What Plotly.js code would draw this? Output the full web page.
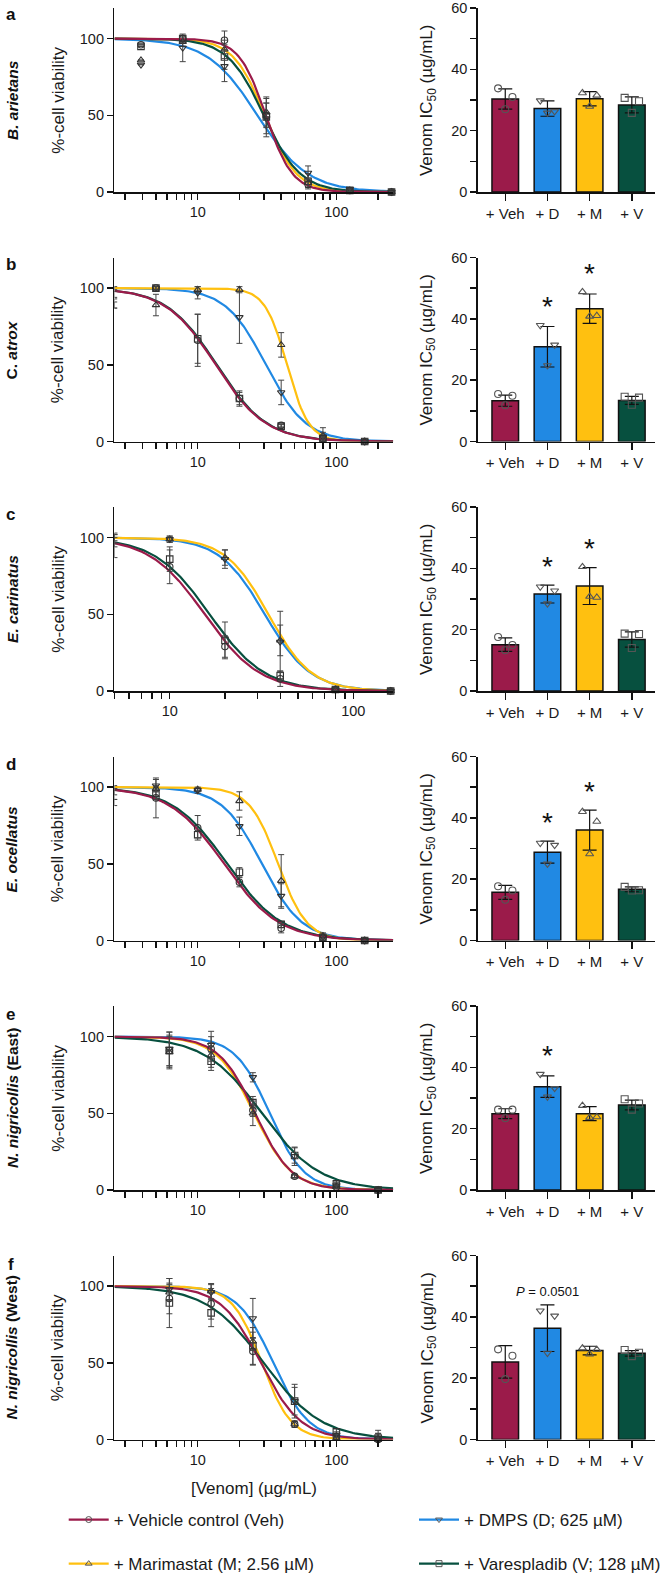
<!DOCTYPE html>
<html><head><meta charset="utf-8">
<script src="https://cdn.plot.ly/plotly-3.0.1.min.js"></script>
<style>html,body{margin:0;padding:0;background:#fff}</style>
</head><body><div id="chart" style="width:666px;height:1582px"></div>
<script>
// ---------------- data ----------------
const treatments = ['+ Vehicle control (Veh)', '+ DMPS (D; 625 µM)', '+ Marimastat (M; 2.56 µM)', '+ Varespladib (V; 128 µM)'];
const barLabels = ['+ Veh', '+ D', '+ M', '+ V'];
const speciesNames = ['<b><i>B. arietans</i></b>', '<b>C. <i>atrox</i></b>', '<b><i>E. carinatus</i></b>', '<b><i>E. ocellatus</i></b>', '<b><i>N. nigricollis</i> (East)</b>', '<b><i>N. nigricollis</i> (West)</b>'];
const panelLetters = ['a', 'b', 'c', 'd', 'e', 'f'];
const xMajorVals = [10, 100];
const xMinorVals = [2, 3, 4, 5, 6, 7, 8, 9, 20, 30, 40, 50, 60, 70, 80, 90, 200, 300];

// concentrations (µg/mL)
const concA = [3.9, 7.8, 15.6, 31.25, 62.5, 125, 250];
const concB = [2.5, 5, 10, 20, 40, 80, 160];
const concC = [5, 10, 20, 40, 80, 160];
const concD = [2.5, 5, 10, 20, 40, 80, 160];
const concE = [6.25, 12.5, 25, 50, 100, 200];
const concF = [6.25, 12.5, 25, 50, 100, 200];

// %-cell viability means and SDs (Veh, D, M, V)
const a_veh = [96, 100, 99, 50, 5, 1, 0],        a_vehSd = [0, 2, 6, 8, 2, 1, 0];
const a_dmp = [83, 94, 82, 48, 12.5, 2, 0],      a_dmpSd = [0, 9, 10, 10, 4.5, 1, 0];
const a_mar = [86, 98, 93, 52, 6, 1, 0],         a_marSd = [0, 3, 6, 9, 3, 1, 0];
const a_var = [95, 100, 88, 49, 7, 1, 0],        a_varSd = [0, 2, 8, 13, 5, 1, 0];

const b_veh = [96, 100, 66, 28, 10.5, 2, 0],     b_vehSd = [2, 1, 17, 5, 1, 1, 0];
const b_dmp = [100, 100, 97, 81, 32, 3, 0],      b_dmpSd = [1, 1, 4, 17, 8, 3, 0];
const b_mar = [89, 89, 99, 99, 63, 4, 0],        b_marSd = [2, 7, 2, 2, 8, 5, 0];
const b_var = [90, 100, 67, 28, 10, 2, 0],       b_varSd = [3, 1, 16, 4, 1, 1, 0];

const c_veh = [95, 81, 29, 8, 1, 0],             c_vehSd = [8, 11, 7, 5, 1, 0];
const c_dmp = [97, 99, 86, 32, 1, 0],            c_dmpSd = [3, 2, 6, 20, 1, 0];
const c_mar = [100, 99, 87, 33, 1, 0],           c_marSd = [2, 2, 5, 10, 1, 0];
const c_var = [99, 86, 33, 10, 1, 0],            c_varSd = [3, 8, 12, 3, 1, 0];

const d_veh = [95, 93, 73.5, 38, 8, 2, 0],       d_vehSd = [3, 13, 8, 3, 3, 2, 0];
const d_dmp = [90, 101, 98, 74.5, 29, 2, 0],     d_dmpSd = [2, 4, 2, 6, 8, 2, 0];
const d_mar = [100, 99, 98.5, 91, 39, 3, 0],     d_marSd = [1, 2, 1, 6, 17, 2, 0];
const d_var = [97, 96, 69, 44.5, 10.5, 2, 0],    d_varSd = [2, 4, 2, 3, 2, 2, 0];

const e_veh = [91, 92, 52, 9, 2, 0],             e_vehSd = [12, 8, 4, 1, 1, 0];
const e_dmp = [92, 94.5, 73.5, 22, 3, 0],        e_dmpSd = [11, 9, 3, 6, 2, 0];
const e_mar = [90, 88, 50, 9, 2, 0],             e_marSd = [10, 8, 8, 1, 1, 0];
const e_var = [91, 84, 57, 22.5, 4, 0],          e_varSd = [10, 6, 4, 5, 2, 0];

const f_veh = [92, 88.5, 57.5, 10, 2, 0],        f_vehSd = [10, 10, 9, 2, 2, 4];
const f_dmp = [98, 96, 79, 25, 3, 1],            f_dmpSd = [7, 5, 13, 11, 2, 5];
const f_mar = [96, 96.7, 64, 10, 1, 0],          f_marSd = [5, 5, 6, 2, 1, 2];
const f_var = [89, 82.6, 61, 25, 5, 1],          f_varSd = [16, 9, 12, 9, 2, 3];

// fitted curve parameters (IC50 µg/mL, Hill slope), order Veh, D, M, V
const a_ic50 = [31, 27, 30.5, 30],     a_hill = [4.5, 2.4, 3.8, 3.3];
const b_ic50 = [13.5, 31, 44, 13.7],   b_hill = [2.4, 3.0, 5.5, 2.4];
const c_ic50 = [15.5, 33, 34.5, 16.5], c_hill = [2.9, 3.5, 3.7, 2.9];
const d_ic50 = [15.5, 29, 38, 16.3],   d_hill = [2.2, 3.0, 4.2, 2.2];
const e_ic50 = [26, 33, 25.5, 29],     e_hill = [3.3, 3.5, 3.2, 2.1];
const f_ic50 = [28.5, 35, 29, 30],     f_hill = [3.0, 3.4, 4.1, 2.1];

// Venom IC50 bars: mean, SD, replicate points (Veh, D, M, V)
const a_bar = [30.3, 27.2, 30.4, 28.4], a_barSd = [3.3, 2.5, 2.3, 2.6];
const a_pVeh = [33.8, 31.0, 27.0], a_pDmp = [29.8, 26.3, 25.8], a_pMar = [32.3, 31.5, 27.9], a_pVar = [30.7, 29.6, 25.8];
const b_bar = [13.3, 30.9, 43.3, 13.4], b_barSd = [1.8, 6.6, 4.8, 1.3];
const b_pVeh = [15.5, 14.9, 11.8], b_pDmp = [37.9, 31.5, 24.8], b_pMar = [48.8, 41.0, 40.8], b_pVar = [14.6, 14.3, 12.0];
const c_bar = [15.1, 31.6, 34.2, 16.8], c_barSd = [2.2, 2.9, 6.0, 2.5];
const c_pVeh = [17.6, 15.0, 13.3], c_pDmp = [34.0, 32.7, 28.5], c_pMar = [40.5, 30.5, 30.8], c_pVar = [18.7, 18.6, 14.0];
const d_bar = [15.7, 28.8, 36.0, 16.7], d_barSd = [2.3, 3.6, 6.5, 0.8];
const d_pVeh = [17.7, 16.3, 13.3], d_pDmp = [31.8, 31.1, 25.0], d_pMar = [42.0, 38.8, 28.2], d_pVar = [17.5, 16.4, 16.3];
const e_bar = [24.9, 33.7, 24.9, 27.7], e_barSd = [1.6, 3.5, 2.3, 1.6];
const e_pVeh = [26.2, 26.2, 23.4], e_pDmp = [37.8, 33.2, 30.4], e_pMar = [27.5, 23.8, 23.6], e_pVar = [29.6, 28.2, 26.2];
const f_bar = [25.3, 36.3, 29.0, 28.1], f_barSd = [5.3, 7.6, 1.4, 0.9];
const f_pVeh = [29.4, 27.3, 19.7], f_pDmp = [42.0, 40.3, 28.2], f_pMar = [29.8, 29.3, 27.8], f_pVar = [29.2, 28.3, 27.2];

// significance labels above bars
const a_sig = ['', '', '', ''];
const b_sig = ['', '*', '*', ''];
const c_sig = ['', '*', '*', ''];
const d_sig = ['', '*', '*', ''];
const e_sig = ['', '*', '', ''];
const f_sig = ['', '<i>P</i> = 0.0501', '', ''];

// ---------------- assembly ----------------
const panels = [
  {conc: concA, m: [a_veh, a_dmp, a_mar, a_var], sd: [a_vehSd, a_dmpSd, a_marSd, a_varSd], ic50: a_ic50, hill: a_hill, xr: [0.4, 2.41], bar: a_bar, barSd: a_barSd, pts: [a_pVeh, a_pDmp, a_pMar, a_pVar], sig: a_sig},
  {conc: concB, m: [b_veh, b_dmp, b_mar, b_var], sd: [b_vehSd, b_dmpSd, b_marSd, b_varSd], ic50: b_ic50, hill: b_hill, xr: [0.4, 2.41], bar: b_bar, barSd: b_barSd, pts: [b_pVeh, b_pDmp, b_pMar, b_pVar], sig: b_sig},
  {conc: concC, m: [c_veh, c_dmp, c_mar, c_var], sd: [c_vehSd, c_dmpSd, c_marSd, c_varSd], ic50: c_ic50, hill: c_hill, xr: [Math.log10(5), 2.218], bar: c_bar, barSd: c_barSd, pts: [c_pVeh, c_pDmp, c_pMar, c_pVar], sig: c_sig},
  {conc: concD, m: [d_veh, d_dmp, d_mar, d_var], sd: [d_vehSd, d_dmpSd, d_marSd, d_varSd], ic50: d_ic50, hill: d_hill, xr: [0.4, 2.41], bar: d_bar, barSd: d_barSd, pts: [d_pVeh, d_pDmp, d_pMar, d_pVar], sig: d_sig},
  {conc: concE, m: [e_veh, e_dmp, e_mar, e_var], sd: [e_vehSd, e_dmpSd, e_marSd, e_varSd], ic50: e_ic50, hill: e_hill, xr: [0.4, 2.41], bar: e_bar, barSd: e_barSd, pts: [e_pVeh, e_pDmp, e_pMar, e_pVar], sig: e_sig},
  {conc: concF, m: [f_veh, f_dmp, f_mar, f_var], sd: [f_vehSd, f_dmpSd, f_marSd, f_varSd], ic50: f_ic50, hill: f_hill, xr: [0.4, 2.41], bar: f_bar, barSd: f_barSd, pts: [f_pVeh, f_pDmp, f_pMar, f_pVar], sig: f_sig}
];

const colors = ['#9B1B4A', '#2189E3', '#FFC010', '#07503F'];
const symbols = ['circle-open', 'triangle-down-open', 'triangle-up-open', 'square-open'];
const FONT = 'Arial, "Liberation Sans", Helvetica, sans-serif';
const W = 666, H = 1582;
const fx = p => p / W;
const fy = p => 1 - p / H;
const LEFT = [115, 395], RIGHT = [480, 658];
const drawOrder = [1, 2, 3, 0];
const jitter = [-0.17, 0.17, 0];

const traces = [];
const legendStyle = {yanchor: 'top', xanchor: 'left', font: {size: 17, family: FONT, color: '#1a1a1a'}, tracegroupgap: 19, itemwidth: 40, bgcolor: 'rgba(0,0,0,0)'};
const layout = {
  width: W, height: H, margin: {l: 0, r: 0, t: 0, b: 0},
  paper_bgcolor: '#fff', plot_bgcolor: 'rgba(0,0,0,0)',
  font: {family: FONT, color: '#1a1a1a'},
  showlegend: true, annotations: [],
  legend: Object.assign({x: fx(64), y: fy(1502)}, legendStyle),
  legend2: Object.assign({x: fx(416), y: fy(1502)}, legendStyle)
};

const tickCol = '#111';
const axStyle = {showline: true, linecolor: tickCol, linewidth: 1.6, ticks: 'outside', ticklen: 6, tickwidth: 1.4, tickcolor: tickCol, showgrid: false, zeroline: false, fixedrange: true,
  ticklabeloverflow: 'allow', tickfont: {size: 14.5, family: FONT, color: '#1a1a1a'}};
const minorStyle = {ticks: 'outside', ticklen: 6, tickwidth: 1.4, tickcolor: tickCol, showgrid: false};

panels.forEach((p, k) => {
  const bottom = 192 + 249.5 * k, top = bottom - 184;
  const nL = 2 * k + 1, nR = 2 * k + 2;
  const xL = 'x' + nL, yL = 'y' + nL, xR = 'x' + nR, yR = 'y' + nR;
  const ydom = [fy(bottom), fy(top)];

  layout['xaxis' + nL] = Object.assign({}, axStyle, {type: 'log', range: p.xr, domain: [fx(LEFT[0]), fx(LEFT[1])], anchor: yL,
    tickmode: 'array', tickvals: xMajorVals, ticktext: xMajorVals.map(String), minor: Object.assign({tickmode: 'array', tickvals: xMinorVals}, minorStyle)});
  layout['yaxis' + nL] = Object.assign({}, axStyle, {range: [0, 120], domain: ydom, anchor: xL, tickmode: 'array', tickvals: [0, 50, 100]});
  layout['xaxis' + nR] = Object.assign({}, axStyle, {range: [-0.65, 3.55], domain: [fx(RIGHT[0]), fx(RIGHT[1])], anchor: yR, tickmode: 'array', tickvals: [0, 1, 2, 3], ticktext: barLabels, ticklen: 7, tickfont: {size: 15, family: FONT, color: '#1a1a1a'}});
  layout['yaxis' + nR] = Object.assign({}, axStyle, {range: [0, 60], domain: ydom, anchor: xR, tickmode: 'array', tickvals: [0, 20, 40, 60],
    minor: Object.assign({tickmode: 'array', tickvals: [10, 30, 50]}, minorStyle)});

  // fitted curves
  const lo = p.xr[0], hi = p.xr[1];
  const xs = [];
  for (let i = 0; i <= 160; i++) xs.push(Math.pow(10, lo + (hi - lo) * i / 160));
  drawOrder.forEach(t => {
    traces.push({x: xs, y: xs.map(v => 100 / (1 + Math.pow(v / p.ic50[t], p.hill[t]))), mode: 'lines', line: {color: colors[t], width: 2.2}, xaxis: xL, yaxis: yL, showlegend: false, hoverinfo: 'skip'});
  });
  // data points
  [3, 2, 1, 0].forEach(t => {
    traces.push({x: p.conc, y: p.m[t], mode: 'markers', marker: {symbol: symbols[t], size: 6.5, color: '#333', line: {width: 1.1}},
      error_y: {type: 'data', array: p.sd[t], color: '#444', thickness: 1, width: 3}, cliponaxis: false, xaxis: xL, yaxis: yL, showlegend: false});
  });
  // bars
  traces.push({type: 'bar', x: [0, 1, 2, 3], y: p.bar, width: 0.63, marker: {color: colors, line: {color: '#111', width: 1.5}},
    error_y: {type: 'data', array: p.barSd, color: '#111', thickness: 1.2, width: 7}, xaxis: xR, yaxis: yR, showlegend: false});
  p.pts.forEach((arr, t) => {
    traces.push({x: arr.map((v, j) => t + jitter[j]), y: arr, mode: 'markers', marker: {symbol: symbols[t], size: 7, color: '#555', line: {width: 1.1}}, xaxis: xR, yaxis: yR, showlegend: false, cliponaxis: false});
  });
  p.sig.forEach((s, t) => {
    if (!s) return;
    const topv = Math.max(p.bar[t] + p.barSd[t], ...p.pts[t]);
    const isStar = s === '*';
    layout.annotations.push({xref: xR, yref: yR, x: t, y: topv, text: s, showarrow: false, xanchor: 'center', yanchor: 'bottom', yshift: isStar ? 1 : 4,
      font: {size: isStar ? 28 : 13, family: FONT, color: '#111'}});
  });

  // panel texts
  const ymid = fy((top + bottom) / 2);
  layout.annotations.push({xref: 'paper', yref: 'paper', x: fx(11), y: fy(14 + 250 * k), text: '<b>' + panelLetters[k] + '</b>', showarrow: false, xanchor: 'center', yanchor: 'middle', font: {size: 17, family: FONT, color: '#111'}});
  layout.annotations.push({xref: 'paper', yref: 'paper', x: fx(12), y: ymid, text: speciesNames[k], textangle: -90, showarrow: false, xanchor: 'center', yanchor: 'middle', font: {size: 15.5, family: FONT, color: '#111'}});
  layout.annotations.push({xref: 'paper', yref: 'paper', x: fx(58), y: ymid, text: '%-cell viability', textangle: -90, showarrow: false, xanchor: 'center', yanchor: 'middle', font: {size: 17, family: FONT, color: '#1a1a1a'}});
  layout.annotations.push({xref: 'paper', yref: 'paper', x: fx(430), y: ymid, text: 'Venom IC<sub>50</sub> (µg/mL)', textangle: -90, showarrow: false, xanchor: 'center', yanchor: 'middle', font: {size: 17, family: FONT, color: '#1a1a1a'}});
});

// x-axis title of the bottom-left panel
layout.annotations.push({xref: 'paper', yref: 'paper', x: fx((LEFT[0] + LEFT[1]) / 2), y: fy(1488), text: '[Venom] (µg/mL)', showarrow: false, xanchor: 'center', yanchor: 'middle', font: {size: 17, family: FONT, color: '#1a1a1a'}});

// legend entries
[0, 2, 1, 3].forEach(t => {
  traces.push({x: [null], y: [null], mode: 'lines+markers', name: treatments[t], line: {color: colors[t], width: 2.2},
    marker: {symbol: symbols[t], size: 6, color: '#555', line: {width: 1}}, xaxis: 'x2', yaxis: 'y2',
    legend: (t === 0 || t === 2) ? 'legend' : 'legend2', legendgroup: 'g' + t, showlegend: true, hoverinfo: 'skip'});
});

Plotly.newPlot('chart', traces, layout, {staticPlot: true, displayModeBar: false});
</script></body></html>
